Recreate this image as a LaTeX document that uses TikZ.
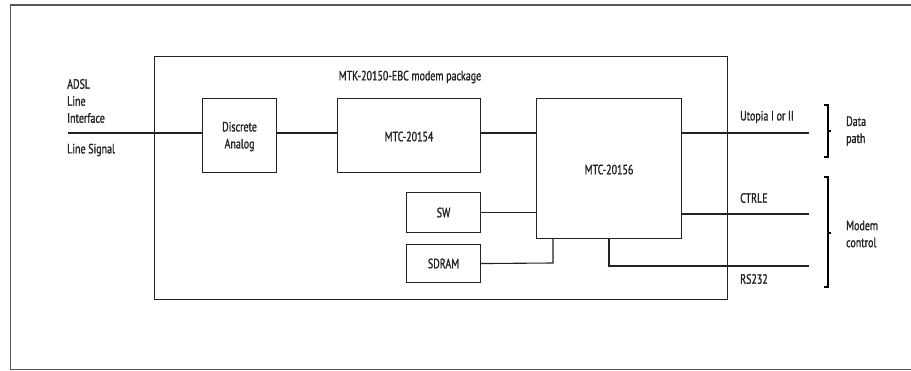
\documentclass[tikz,border=0pt]{standalone}
\usepackage{fontspec}
\setmainfont{PT Sans}[FakeStretch=0.74,FakeBold=1.2]
\definecolor{ink}{HTML}{222222}
\definecolor{frame}{HTML}{555555}
\begin{document}
\begin{tikzpicture}[x=1pt,y=-1pt,
  blk/.style={draw=ink,line width=1.1pt,rectangle},
  wire/.style={draw=ink,line width=1.1pt},
  lbl/.style={text=ink,font=\fontsize{13.5}{17}\selectfont,inner sep=0pt},
  brk/.style={draw=black,line width=1.5pt}]
\useasboundingbox (0,0) rectangle (911,371);
\fill[white] (0,0) rectangle (911,371);
% outer frame
\draw[frame,line width=1.4pt] (911,5) -- (10.5,5) -- (10.5,369.5) -- (911,369.5);
% package
\node[blk,minimum width=573pt,minimum height=243pt,anchor=north west] (pkg) at (154,56) {};
\node[lbl] (title) at (410,77) {MTK-20150-EBC modem package};
% blocks
\node[blk,minimum width=74pt,minimum height=74pt,anchor=north west,inner sep=0pt] (da) at (202,98) {};
\node[lbl,align=center] (datxt) at ([yshift=-1pt]da.center) {Discrete\\Analog};
\node[blk,minimum width=143pt,minimum height=74pt,anchor=north west] (m154) at (337,98) {};
\node[lbl] at ([yshift=-1pt]m154.center) {MTC-20154};
\node[blk,minimum width=145pt,minimum height=140pt,anchor=north west] (m156) at (536,98) {};
\node[lbl] at ([yshift=-1pt]m156.center) {MTC-20156};
\node[blk,minimum width=74pt,minimum height=40pt,anchor=north west] (sw) at (406,192) {};
\node[lbl] at (sw.center) {SW};
\node[blk,minimum width=74pt,minimum height=38pt,anchor=north west] (sdram) at (406,244) {};
\node[lbl] at (sdram.center) {SDRAM};
% free ends
\coordinate (inL) at (68,133);
\coordinate (outU) at (809,133);
\coordinate (outC) at (809,214);
\coordinate (outR) at (809,266);
% wires
\draw[wire] (inL) -- (inL -| da.west);
\draw[wire] (da.east |- inL) -- (inL -| m154.west);
\draw[wire] (m154.east |- inL) -- (inL -| m156.west);
\draw[wire] (m156.east |- outU) -- (outU);
\draw[wire] (m156.east |- outC) -- (outC);
\draw[wire] (sw.east) -- (sw.east -| m156.west);
\draw[wire] (sdram.east) -- (553,263) -- (553,238);
\draw[wire] (609,238) -- (609,266) -- (outR);
% left labels
\node[lbl,align=left,anchor=west] (adsl) at (67,101) {ADSL\\Line\\Interface};
\node[lbl,anchor=west] (lsig) at (67,150) {Line Signal};
% right labels
\node[lbl,anchor=west] (utop) at (740,117) {Utopia I or II};
\node[lbl,anchor=west] (ctrl) at (740,198) {CTRLE};
\node[lbl,anchor=west] (rs) at (740,279) {RS232};
% brackets
\draw[brk] (824,105) -- (828,105) -- (828,157) -- (824,157);
\draw[brk] (828,131) -- (830.5,131);
\draw[brk] (824,177) -- (828,177) -- (828,287) -- (824,287);
\draw[brk] (828,233) -- (830.5,233);
\node[lbl,align=left,anchor=west] (dp) at (846,131) {Data\\path};
\node[lbl,align=left,anchor=west] (mc) at (846,234) {Modem\\control};
\end{tikzpicture}
\end{document}
